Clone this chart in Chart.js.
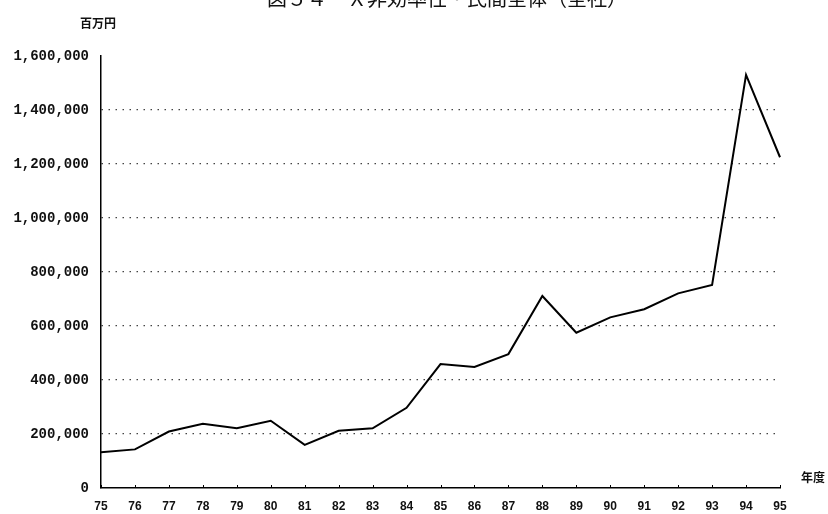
<!DOCTYPE html>
<html><head><meta charset="utf-8">
<script src="https://cdn.jsdelivr.net/npm/chart.js@4"></script>
<style>html,body{margin:0;padding:0;background:#fff}#wrap{width:828px;height:514px}</style>
</head><body><div id="wrap"><canvas id="c" width="828" height="514"></canvas></div>
<script>
// ---- data ----
const years = ['75','76','77','78','79','80','81','82','83','84','85','86','87','88','89','90','91','92','93','94','95'];
const values = [132000,143000,209000,238000,221000,249000,160000,212000,221000,297000,459000,448000,496000,711000,575000,632000,662000,721000,752000,1530000,1225000];
const yTickValues = [0,200000,400000,600000,800000,1000000,1200000,1400000,1600000];
const titleText = '図５４　Ｘ非効率性・民間全体（全社）';
const yUnitText = '百万円';
const xUnitText = '年度';

const CJK = '"Noto Sans CJK JP", sans-serif';

const textPlugin = {
  id: 'extraText',
  afterDraw(chart) {
    const ctx = chart.ctx;
    ctx.save();
    ctx.fillStyle = '#111';
    ctx.textAlign = 'center';
    ctx.textBaseline = 'alphabetic';
    ctx.font = '20px ' + CJK;
    ctx.fillText(titleText, 447, 6);
    ctx.textBaseline = 'middle';
    ctx.font = 'bold 12px ' + CJK;
    ctx.fillText(yUnitText, 98, 23);
    ctx.fillText(xUnitText, 813, 477);
    // small tick marks on x axis
    const xs = chart.scales.x, a = chart.chartArea;
    ctx.strokeStyle = '#000';
    ctx.lineWidth = 1;
    for (let i = 0; i < years.length; i++) {
      const x = Math.round(xs.getPixelForValue(i)) + 0.5;
      ctx.beginPath(); ctx.moveTo(x, a.bottom); ctx.lineTo(x, a.bottom - 3); ctx.stroke();
    }
    ctx.restore();
  }
};

new Chart(document.getElementById('c'), {
  type: 'line',
  data: {
    labels: years,
    datasets: [{
      data: values,
      borderColor: '#000',
      borderWidth: 2,
      pointRadius: 0,
      tension: 0,
      fill: false
    }]
  },
  options: {
    responsive: false,
    animation: false,
    devicePixelRatio: 1,
    layout: { padding: { top: 56, right: 48, left: 0, bottom: 0 } },
    plugins: { legend: { display: false }, tooltip: { enabled: false }, title: { display: false } },
    scales: {
      x: {
        type: 'category',
        offset: false,
        afterFit(s) { s.height = 26; },
        grid: { display: false, drawTicks: false },
        border: { display: true, color: '#000', width: 1.5 },
        ticks: {
          padding: 11,
          maxRotation: 0,
          autoSkip: false,
          color: '#111',
          font: { family: '"Liberation Sans", sans-serif', size: 12, weight: 'bold' }
        }
      },
      y: {
        min: 0,
        max: 1600000,
        afterFit(s) { s.width = 101; },
        afterBuildTicks(s) { s.ticks = yTickValues.map(v => ({ value: v })); },
        grid: {
          drawTicks: false,
          color: c => (c.tick && (c.tick.value === 0 || c.tick.value === 1600000)) ? 'rgba(0,0,0,0)' : '#444',
          lineWidth: 1.2
        },
        border: { display: true, color: '#000', width: 1.5, dash: [1.5, 5.5] },
        ticks: {
          padding: 12,
          color: '#111',
          font: { family: '"Liberation Mono", monospace', size: 14, weight: 'bold' },
          callback: v => v.toLocaleString('en-US')
        }
      }
    }
  },
  plugins: [textPlugin]
});
</script>
</body></html>
